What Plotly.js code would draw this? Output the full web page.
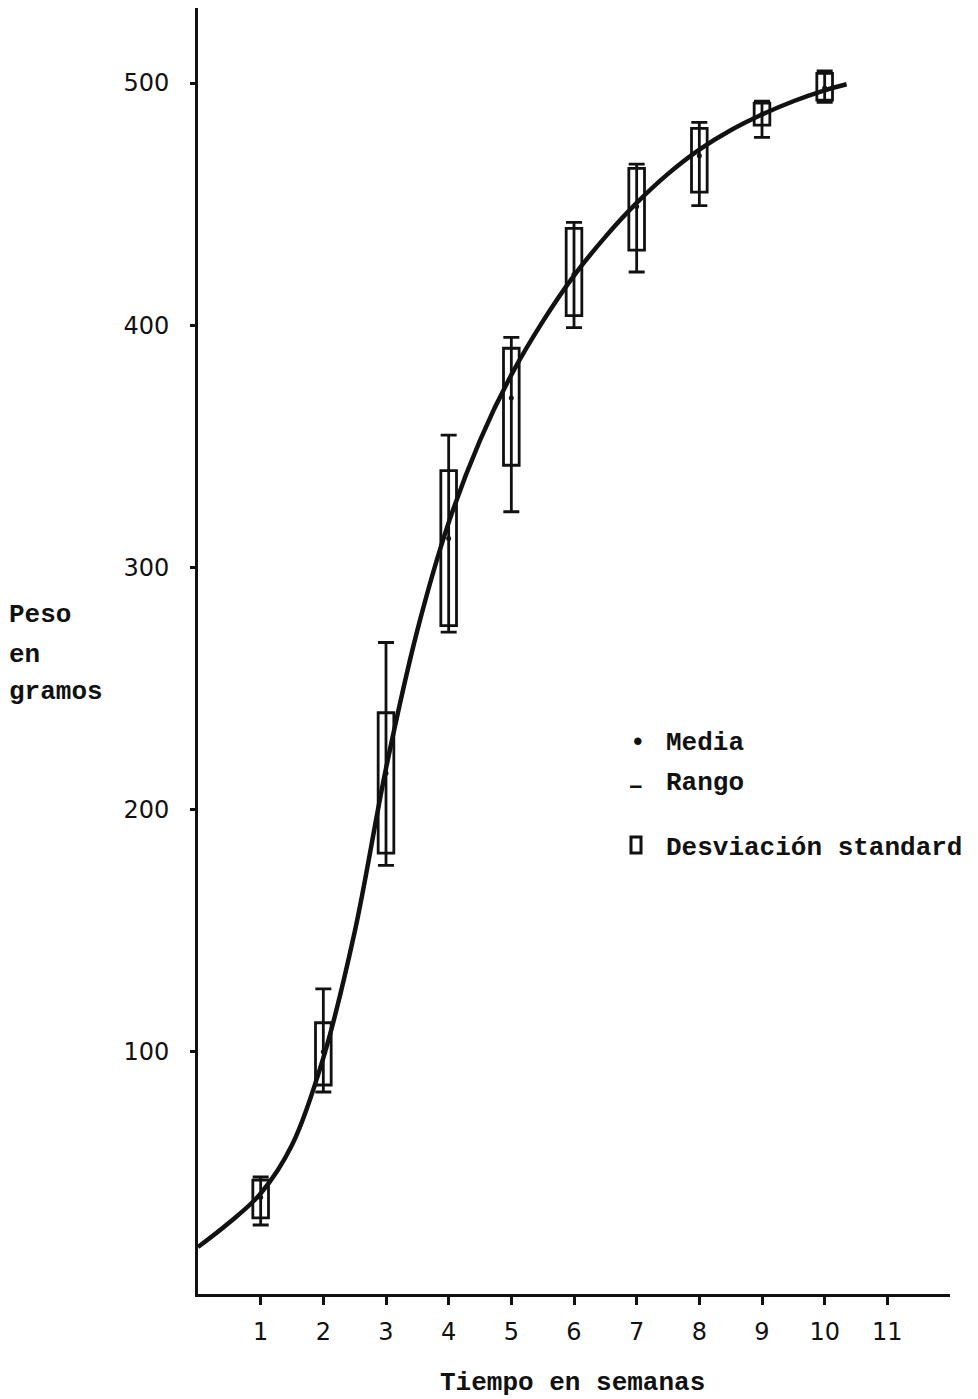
<!DOCTYPE html>
<html>
<head>
<meta charset="utf-8">
<script src="https://cdn.plot.ly/plotly-3.0.1.min.js"></script>
<style>html,body{margin:0;padding:0;background:#fff;}#chart{width:978px;height:1399px;}</style>
</head>
<body>
<div id="chart"></div>
<script>
// ---- data ----
const weeks = [1, 2, 3, 4, 5, 6, 7, 8, 9, 10];
const sdHigh = [47, 112, 240, 340, 390.5, 440, 464.8, 481.3, 491.7, 504];
const sdLow = [31.4, 86.3, 182, 276, 342.2, 404, 431, 455, 482.6, 493];
const rangeHigh = [48.3, 126, 269, 354.6, 395, 442.5, 466.5, 483.8, 492.5, 505];
const rangeLow = [28.5, 83.4, 177, 273.3, 323, 399, 422, 449.4, 477.6, 492];
const means = [40, 100, 215, 312, 370, 421, 449, 470, 487, 498];
const curveX = [0, 0.5, 1, 1.5, 2, 2.5, 3, 3.5, 4, 4.5, 5, 5.5, 6, 6.5, 7, 7.5, 8, 8.5, 9, 9.5, 10, 10.35];
const curveY = [19.4, 29.5, 41.5, 61.5, 97.5, 149.5, 217, 274, 318.5, 352.5, 379.5, 401.5, 420.5, 436.5, 450.5, 462.5, 472.5, 480.5, 487, 492.5, 497, 499.5];
const xTicks = [1, 2, 3, 4, 5, 6, 7, 8, 9, 10, 11];
const yTicks = [100, 200, 300, 400, 500];
const legendLabels = ['Media', 'Rango', 'Desviación standard'];

const ink = '#111';
const mono = '"Liberation Mono", "DejaVu Sans Mono", monospace';
const sans = '"DejaVu Sans", sans-serif';

const sdBars = {
  type: 'bar', x: weeks,
  y: weeks.map((w, i) => sdHigh[i] - sdLow[i]),
  base: sdLow, width: 0.25,
  marker: {color: '#fff', line: {color: ink, width: 2.8}},
  hoverinfo: 'skip', showlegend: false
};
const ranges = {
  type: 'scatter', mode: 'markers', x: weeks, y: means,
  marker: {size: 5, color: ink},
  error_y: {
    type: 'data', symmetric: false,
    array: weeks.map((w, i) => rangeHigh[i] - means[i]),
    arrayminus: weeks.map((w, i) => means[i] - rangeLow[i]),
    color: ink, thickness: 2.8, width: 8
  },
  showlegend: false
};
const curve = {
  type: 'scatter', mode: 'lines', x: curveX, y: curveY,
  line: {color: ink, width: 4.5, shape: 'spline', smoothing: 1},
  showlegend: false
};

const L = 198, T = 8, W = 752, H = 1286;
const px = v => (v - L) / W;
const py = v => (1294 - v) / H;

const annotations = [
  {text: 'Peso', x: px(7), y: py(615)},
  {text: 'en', x: px(7), y: py(655)},
  {text: 'gramos', x: px(7), y: py(692)},
  {text: '•', x: px(628), y: py(743)},
  {text: '–', x: px(626), y: py(786)},
  {text: legendLabels[0], x: px(664), y: py(743)},
  {text: legendLabels[1], x: px(664), y: py(783)},
  {text: legendLabels[2], x: px(664), y: py(848)},
  {text: 'Tiempo en semanas', x: px(572), y: py(1383), xanchor: 'center'}
].map(a => Object.assign({
  xref: 'paper', yref: 'paper', showarrow: false, xanchor: 'left', yanchor: 'middle',
  font: {family: mono, size: 26, color: ink, weight: 'bold'}
}, a));

const layout = {
  width: 978, height: 1399,
  margin: {l: L, r: 978 - L - W, t: T, b: 1399 - T - H},
  paper_bgcolor: '#fff', plot_bgcolor: '#fff',
  bargap: 0, showlegend: false,
  xaxis: {
    range: [0, 12], showgrid: false, zeroline: false,
    showline: true, linecolor: ink, linewidth: 3,
    tickmode: 'array', tickvals: xTicks, ticktext: xTicks.map(String),
    ticks: 'outside', ticklen: 8, tickwidth: 3, tickcolor: ink,
    ticklabelstandoff: 6,
    tickfont: {family: sans, size: 24, color: ink}
  },
  yaxis: {
    range: [0, 531], showgrid: false, zeroline: false,
    showline: true, linecolor: ink, linewidth: 3,
    tickmode: 'array', tickvals: yTicks, ticktext: yTicks.map(String),
    ticks: 'outside', ticklen: 5, tickwidth: 3, tickcolor: ink,
    ticklabelstandoff: 16,
    tickfont: {family: sans, size: 24, color: ink}
  },
  annotations: annotations,
  shapes: [
    {type: 'rect', xref: 'paper', yref: 'paper',
     x0: px(631), x1: px(641), y0: py(853), y1: py(837),
     line: {color: ink, width: 3}, fillcolor: '#fff'}
  ]
};

Plotly.newPlot('chart', [sdBars, curve, ranges], layout, {staticPlot: true, displayModeBar: false});
</script>
</body>
</html>
